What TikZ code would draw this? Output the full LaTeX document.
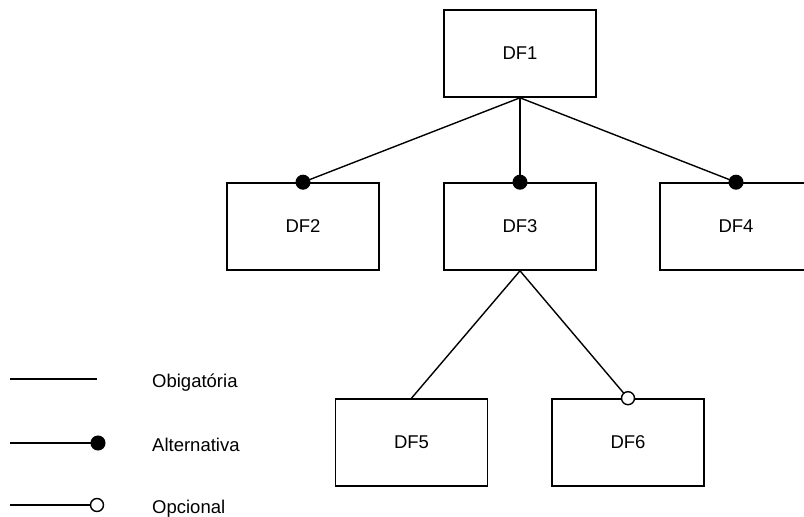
\documentclass[tikz,border=0pt]{standalone}
\usepackage{fontspec}
\setmainfont{Liberation Sans}
\begin{document}
\begin{tikzpicture}[x=1pt,y=-1pt,
  feature/.style={draw, line width=1.6pt, minimum width=152pt, minimum height=87pt,
    inner sep=0pt, font=\fontsize{18.5}{22}\selectfont},
  link/.style={line width=1.4pt},
  filleddot/.style={circle, fill=black, draw=black, line width=1pt, minimum size=14pt, inner sep=0pt},
  opendot/.style={circle, fill=white, draw=black, line width=1.4pt, minimum size=13pt, inner sep=0pt},
  legendtext/.style={anchor=base west, inner sep=0pt, font=\fontsize{18.5}{22}\selectfont}]
\useasboundingbox (0,0) rectangle (804,517);

% feature boxes
\node[feature] (df1) at (520,53.5) {DF1};
\node[feature] (df2) at (303,226.5) {DF2};
\node[feature] (df3) at (520,226.5) {DF3};
\node[feature] (df4) at (736,226.5) {DF4};
\node[feature] (df5) at (411.5,442.5) {DF5};
\node[feature] (df6) at (628,442.5) {DF6};

% connectors
\draw[link] (df1.south) -- (df2.north);
\draw[link] (df1.south) -- (df3.north);
\draw[link] (df1.south) -- (df4.north);
\draw[link] (df3.south) -- (df5.north);
\draw[link] (df3.south) -- (df6.north);

% end markers
\node[filleddot] (m2) at (df2.north) {};
\node[filleddot] (m3) at (df3.north) {};
\node[filleddot] (m4) at (df4.north) {};
\node[opendot] (m6) at (df6.north) {};

% legend
\coordinate (l1a) at (10,379);
\coordinate (l1b) at (97,379);
\coordinate (l2a) at (10,443);
\coordinate (l2b) at (98,443);
\coordinate (l3a) at (10,505);
\coordinate (l3b) at (97,505);
\draw[link] (l1a) -- (l1b);
\draw[link] (l2a) -- (l2b);
\node[filleddot] (k2) at (l2b) {};
\draw[link] (l3a) -- (l3b);
\node[opendot] (k3) at (l3b) {};
\node[legendtext] (t1) at (152,387) {Obigatória};
\node[legendtext] (t2) at (152,451) {Alternativa};
\node[legendtext] (t3) at (152,513) {Opcional};
\end{tikzpicture}
\end{document}
